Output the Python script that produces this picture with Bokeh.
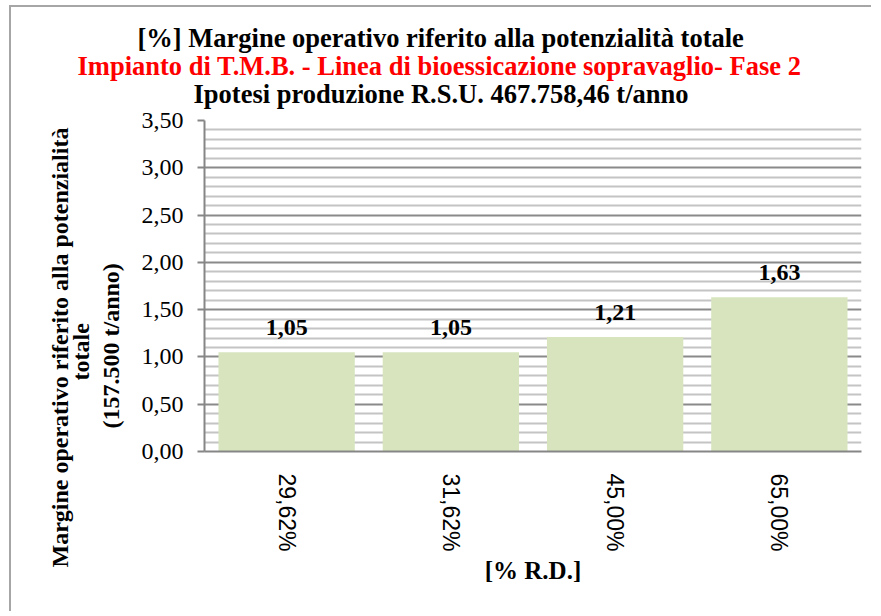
import math
import numpy as np
from bokeh.plotting import figure
from bokeh.models import FactorRange, Range1d, FixedTicker, Title, ColumnDataSource
from bokeh.core.properties import value
from bokeh.embed import file_html
from bokeh.resources import INLINE

# ---- data ----
categories = ["29,62%", "31,62%", "45,00%", "65,00%"]
values = [1.05, 1.05, 1.21, 1.63]
value_labels = ["1,05", "1,05", "1,21", "1,63"]
y_ticks = [0.0, 0.5, 1.0, 1.5, 2.0, 2.5, 3.0, 3.5]
y_tick_labels = ["0,00", "0,50", "1,00", "1,50", "2,00", "2,50", "3,00", "3,50"]
title_1 = "[%] Margine operativo riferito alla potenzialità totale"
title_2 = "Impianto di T.M.B. - Linea di bioessicazione sopravaglio- Fase 2"
title_3 = "Ipotesi produzione R.S.U. 467.758,46 t/anno"
y_label_lines = ["Margine operativo riferito alla potenzialità", "totale", "(157.500 t/anno)"]
x_label = "[% R.D.]"

SERIF = "Liberation Serif"
SANS = "Liberation Sans"

minor = [round(v, 2) for v in np.arange(0.0, 3.5001, 0.1) if round(v * 10) % 5 != 0]

p = figure(
    x_range=FactorRange(factors=categories),
    y_range=Range1d(0, 3.5),
    frame_width=657, frame_height=331,
    min_border_left=193, min_border_top=113, min_border_right=10, min_border_bottom=160,
    output_backend="svg", toolbar_location=None,
    background_fill_color="white", border_fill_color="white",
)
p.outline_line_color = None
p.styles = {"margin-left": "9px", "margin-top": "5px",
            "border-left": "2px solid #a6a6a6", "border-top": "2px solid #a6a6a6"}

src = ColumnDataSource(dict(x=categories, top=values, lab=value_labels))
p.vbar(x="x", top="top", width=0.83, source=src, fill_color="#D7E4BD", line_color=None)
p.text(x="x", y="top", text="lab", source=src, y_offset=-25,
       text_align="center", text_baseline="alphabetic",
       text_font=value(SERIF), text_font_style="bold", text_font_size="24px", text_color="black")

# y axis
ticker = FixedTicker(ticks=y_ticks, minor_ticks=minor)
p.yaxis.ticker = ticker
p.yaxis.major_label_overrides = {t: l for t, l in zip(y_ticks, y_tick_labels)}
p.yaxis.major_label_text_font = SERIF
p.yaxis.major_label_text_font_size = "24px"
p.yaxis.major_label_text_color = "black"
p.yaxis.major_label_standoff = 14
p.yaxis.major_tick_out = 7
p.yaxis.major_tick_in = 0
p.yaxis.minor_tick_line_color = None
p.yaxis.axis_line_color = "#868686"
p.yaxis.axis_line_width = 2
p.yaxis.major_tick_line_color = "#868686"
p.yaxis.major_tick_line_width = 2

p.ygrid.ticker = ticker
p.ygrid.grid_line_color = "#8a8a8a"
p.ygrid.grid_line_width = 2
p.ygrid.minor_grid_line_color = "#c4c4c4"
p.ygrid.minor_grid_line_width = 2
p.xgrid.grid_line_color = None

# x axis
p.xaxis.major_label_orientation = -math.pi / 2
p.xaxis.major_label_text_font = SANS
p.xaxis.major_label_text_font_size = "23px"
p.xaxis.major_label_text_color = "black"
p.xaxis.major_label_standoff = 16
p.xaxis.major_tick_line_color = None
p.xaxis.minor_tick_line_color = None
p.xaxis.axis_line_color = "#868686"
p.xaxis.axis_line_width = 2
p.xaxis.axis_label = x_label
p.xaxis.axis_label_text_font = SERIF
p.xaxis.axis_label_text_font_style = "bold"
p.xaxis.axis_label_text_font_size = "25px"
p.xaxis.axis_label_text_color = "black"
p.xaxis.axis_label_standoff = 2

# titles (first added = closest to the plot)
for txt, col, off, so in [(title_3, "black", -11, 24), (title_2, "#FF0000", -127, -32), (title_1, "black", -67, 23)]:
    p.add_layout(Title(text=txt, align="left", offset=off, standoff=so,
                       text_font=SERIF, text_font_style="bold", text_font_size="26.5px",
                       text_color=col), "above")

# y axis label lines as left titles (first added = closest to the axis)
for txt, off, so in [(y_label_lines[2], 23, 30), (y_label_lines[1], 71, -26), (y_label_lines[0], -116, 12)]:
    p.add_layout(Title(text=txt, align="left", offset=off, standoff=so,
                       text_font=SERIF, text_font_style="bold", text_font_size="24px",
                       text_color="black"), "left")

open("out.html", "w").write(file_html(p, INLINE))
